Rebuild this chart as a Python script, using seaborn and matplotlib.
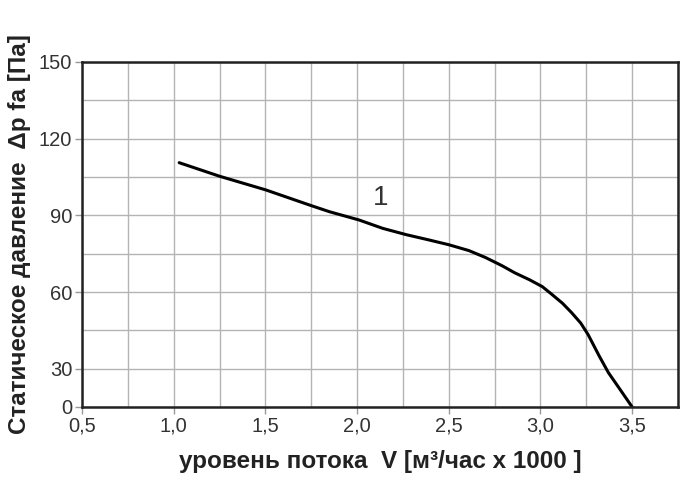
import numpy as np
import pandas as pd
import matplotlib
matplotlib.use("Agg")
import matplotlib.pyplot as plt
import seaborn as sns
from matplotlib.ticker import FixedLocator, FuncFormatter

# Data
flow = [1.03, 1.25, 1.5, 1.75, 1.85, 2.01, 2.14, 2.27, 2.39, 2.5, 2.61, 2.70, 2.79, 2.86, 2.94, 3.01, 3.06, 3.12, 3.17, 3.22, 3.26, 3.32, 3.37, 3.44, 3.50]
pressure = [110.6, 105.3, 100.0, 93.8, 91.4, 88.2, 84.9, 82.4, 80.4, 78.5, 76.2, 73.5, 70.3, 67.5, 64.8, 62.1, 59.2, 55.6, 51.9, 47.8, 43.3, 35.0, 27.0, 12.5, 0.0]
x_ticks = [0.5, 1.0, 1.5, 2.0, 2.5, 3.0, 3.5]
x_minor = [0.75, 1.25, 1.75, 2.25, 2.75, 3.25, 3.75]
y_ticks = [0, 30, 60, 90, 120, 150]
y_minor = [45, 75, 105, 135]
curve_label = "1"

df = pd.DataFrame({"flow": flow, "pressure": pressure})

sns.set_theme(style="white")
plt.rcParams['font.family'] = ['Liberation Sans', 'DejaVu Sans']

fig = plt.figure(figsize=(6.84, 4.82), dpi=100)
ax = fig.add_axes([82/684, 1-407/482, (678-82)/684, (407-62)/482])

def fwd(y):
    y = np.asarray(y, dtype=float)
    return np.where(y < 30, 15 + y / 2.0, y)

def inv(z):
    z = np.asarray(z, dtype=float)
    return np.where(z < 30, (z - 15) * 2.0, z)

ax.set_yscale('function', functions=(fwd, inv))

sns.lineplot(data=df, x="flow", y="pressure", ax=ax, color="black", linewidth=2.2)

ax.set_xlim(0.5, 3.75)
ax.set_ylim(0, 150)
ax.xaxis.set_major_locator(FixedLocator(x_ticks))
ax.xaxis.set_minor_locator(FixedLocator(x_minor))
ax.yaxis.set_major_locator(FixedLocator(y_ticks))
ax.yaxis.set_minor_locator(FixedLocator(y_minor))
ax.xaxis.set_major_formatter(FuncFormatter(lambda v, p: f"{v:.1f}".replace(".", ",")))
ax.yaxis.set_major_formatter(FuncFormatter(lambda v, p: f"{v:.0f}"))

ax.grid(True, which="both", color="#b4b4b4", linewidth=1.0)
ax.tick_params(axis="both", which="major", direction="out", length=5, width=1,
               color="#999999", labelsize=14.5, labelcolor="#333333", pad=2, left=True, bottom=True)
ax.tick_params(axis="both", which="minor", length=0)
for s in ax.spines.values():
    s.set_color("#222222")
    s.set_linewidth(1.8)

ax.text(2.13, 96.7, curve_label, fontsize=20, color="#333333", ha="center", va="center")

ax.set_xlabel("уровень потока  V [м³/час x 1000 ]", fontsize=17.5, fontweight="bold",
              color="#222222", labelpad=10)
ax.set_ylabel("Статическое давление  Δp fa [Па]", fontsize=17.5, fontweight="bold",
              color="#222222", labelpad=6)

fig.savefig("out.png", dpi=100)
